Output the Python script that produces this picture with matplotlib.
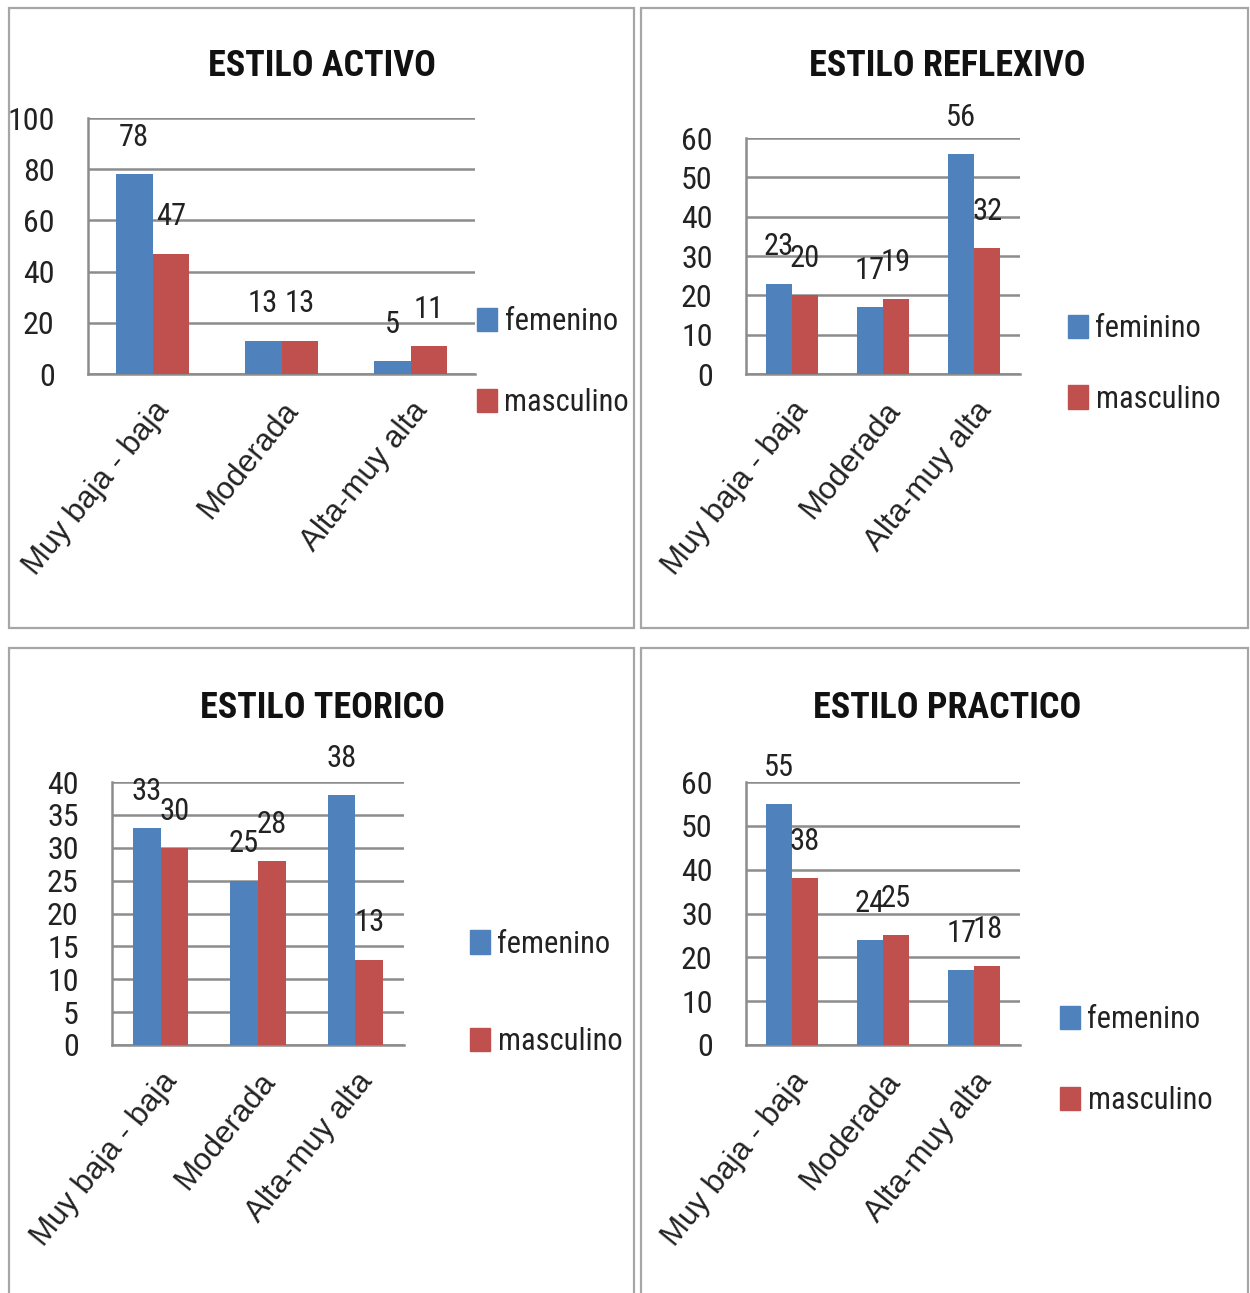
import numpy as np
import matplotlib
matplotlib.use("Agg")
import matplotlib.pyplot as plt
from matplotlib import font_manager
from matplotlib.patches import Patch, Rectangle

# datos
categorias = ["Muy baja - baja", "Moderada", "Alta-muy alta"]
titulos = ["ESTILO ACTIVO", "ESTILO REFLEXIVO", "ESTILO TEORICO", "ESTILO PRACTICO"]
etiquetas_fem = ["femenino", "feminino", "femenino", "femenino"]
etiqueta_masc = "masculino"

activo_fem = [78, 13, 5]
activo_masc = [47, 13, 11]
reflexivo_fem = [23, 17, 56]
reflexivo_masc = [20, 19, 32]
teorico_fem = [33, 25, 38]
teorico_masc = [30, 28, 13]
practico_fem = [55, 24, 17]
practico_masc = [38, 25, 18]

W, H = 1250, 1293
AZUL = "#4F81BD"
ROJO = "#C0504D"
GRIS = "#8c8c8c"

# fuente estrecha tipo Calibri si existe
instaladas = {f.name for f in font_manager.fontManager.ttflist}
estrecha = next((n for n in ["Liberation Sans Narrow", "Roboto Condensed", "Lato"]
                 if n in instaladas), "DejaVu Sans")
NARROW = [estrecha, "DejaVu Sans"]
ARIAL = ["Liberation Sans", "DejaVu Sans"]

fig = plt.figure(figsize=(W / 100, H / 100), dpi=100)
fig.patch.set_facecolor("white")


def px_rect(x0, y0, x1, y1):
    return [x0 / W, 1 - y1 / H, (x1 - x0) / W, (y1 - y0) / H]


# marcos de cada grafico
for (x0, y0, x1, y1) in [(9, 8, 634, 628), (641, 8, 1248, 628),
                         (9, 648, 634, 1300), (641, 648, 1248, 1300)]:
    fig.add_artist(Rectangle((x0 / W, 1 - y1 / H), (x1 - x0) / W, (y1 - y0) / H,
                             transform=fig.transFigure, fill=False,
                             ec="#a6a6a6", lw=1.6))

paneles = [
    # (fem, masc, ejes px, ymax, paso, titulo xy, leyenda xy, espacio)
    (activo_fem, activo_masc, (88, 118, 475, 374), 100, 20, (322, 66), (477, 362), 1.7),
    (reflexivo_fem, reflexivo_masc, (746, 138, 1020, 374), 60, 10, (947, 66), (1068, 364), 1.35),
    (teorico_fem, teorico_masc, (112, 782, 404, 1045), 40, 5, (322, 708), (470, 993), 2.25),
    (practico_fem, practico_masc, (746, 782, 1020, 1045), 60, 10, (947, 708), (1060, 1060), 1.7),
]

ancho = 0.285
x = np.arange(len(categorias))

for i, (fem, masc, caja, ymax, paso, tpos, lpos, esp) in enumerate(paneles):
    ax = fig.add_axes(px_rect(*caja))
    b1 = ax.bar(x - ancho / 2, fem, ancho, color=AZUL, zorder=3)
    b2 = ax.bar(x + ancho / 2, masc, ancho, color=ROJO, zorder=3)
    for b in (b1, b2):
        ax.bar_label(b, padding=16, fontsize=22, family=NARROW, color="#222222")
    ax.set_xlim(-0.5, 2.5)
    ax.set_ylim(0, ymax)
    ax.set_yticks(np.arange(0, ymax + 1, paso))
    ax.yaxis.grid(True, color=GRIS, lw=1.8, zorder=0)
    ax.set_axisbelow(True)
    for s in ("top", "right"):
        ax.spines[s].set_visible(False)
    for s in ("left", "bottom"):
        ax.spines[s].set_color(GRIS)
        ax.spines[s].set_linewidth(1.8)
    ax.tick_params(axis="y", length=0, pad=24, labelsize=23, labelcolor="#222222")
    for t in ax.get_yticklabels():
        t.set_family(NARROW)
    ax.set_xticks(x)
    ax.set_xticklabels(categorias, rotation=51, ha="right", rotation_mode="anchor",
                       fontsize=22.5, family=ARIAL, color="#222222")
    ax.tick_params(axis="x", length=0, pad=16)

    fig.text(tpos[0] / W, 1 - tpos[1] / H, titulos[i], ha="center", va="center",
             fontsize=26, fontweight="bold", family=NARROW, color="#111111")

    handles = [Patch(color=AZUL, label=etiquetas_fem[i]),
               Patch(color=ROJO, label=etiqueta_masc)]
    fig.legend(handles=handles, loc="center left",
               bbox_to_anchor=(lpos[0] / W, 1 - lpos[1] / H), frameon=False,
               prop={"family": NARROW, "size": 22}, handlelength=0.65,
               handleheight=0.8, handletextpad=0.25, labelspacing=esp,
               borderaxespad=0, borderpad=0, labelcolor="#222222")

fig.savefig("out.png", dpi=100)
